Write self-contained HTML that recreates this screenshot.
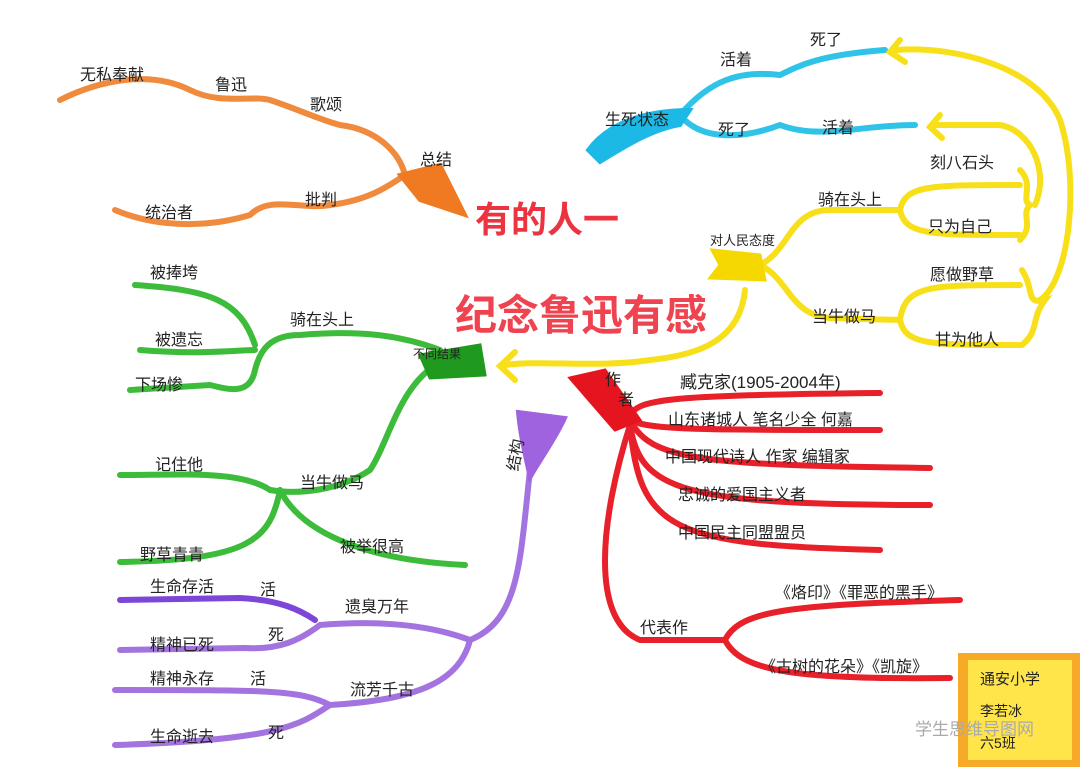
<!DOCTYPE html>
<html><head><meta charset="utf-8"><style>
html,body{margin:0;padding:0;background:#fff;}
svg{display:block;}
text{font-family:"Liberation Sans","Noto Sans CJK SC",sans-serif;fill:#222;}
</style></head><body>
<svg width="1080" height="767" viewBox="0 0 1080 767">
<g fill="none" stroke-linecap="round">
<g stroke="#f08a3c" stroke-width="6">
<path d="M60,100 C100,80 150,70 190,90 C220,105 250,95 270,100 C300,110 320,120 340,125 C380,130 400,155 405,175"/>
<path d="M115,210 C150,225 200,230 250,215 C270,195 300,210 330,205 C370,200 390,185 405,175"/>
</g>
<path d="M400,175 L440,165 L465,215 L420,200 Z" fill="#f07a22" stroke="#f07a22" stroke-width="4"/>
<g stroke="#2fc3e8" stroke-width="6">
<path d="M680,115 C710,80 740,70 780,75 C800,65 820,55 885,50"/>
<path d="M680,115 C700,140 740,140 780,125 C820,140 860,125 915,125"/>
</g>
<path d="M588,150 C610,120 650,110 690,110 L680,125 C650,130 620,150 600,162 Z" fill="#1db9e6" stroke="#1db9e6" stroke-width="4"/>
<g stroke="#f7e01a" stroke-width="6">
<path d="M760,265 C790,250 790,210 830,210 L900,210"/>
<path d="M900,210 C905,185 930,185 1020,185"/>
<path d="M900,210 C905,235 930,235 1020,235"/>
<path d="M760,265 C790,280 790,315 830,318 L900,320"/>
<path d="M900,320 C905,285 930,285 1020,285"/>
<path d="M900,320 C905,345 930,345 1020,345"/>
<path d="M1020,170 C1035,185 1020,200 1030,205 C1020,215 1035,225 1020,240"/>
<path d="M1022,270 C1035,290 1025,305 1045,300 C1030,320 1040,330 1022,345"/>
<path d="M1040,300 C1070,280 1080,180 1060,120 C1040,70 960,45 895,50"/>
<path d="M1035,205 C1050,170 1030,130 1000,125 L935,125"/>
<path d="M745,290 C740,340 700,355 650,360 C600,368 540,360 505,365"/>
<path d="M900,40 L890,52 L905,62"/>
<path d="M940,115 L930,127 L942,138"/>
<path d="M515,352 L500,366 L515,380"/>
</g>
<path d="M712,250 L760,255 L765,280 L710,278 L720,265 Z" fill="#f5d800" stroke="#f5d800" stroke-width="3"/>
<g stroke="#3dbb3a" stroke-width="6">
<path d="M440,350 C400,335 360,330 300,335 C270,335 260,350 255,370 C250,395 230,390 210,385 L130,390"/>
<path d="M255,345 C240,300 210,290 135,285"/>
<path d="M255,350 C240,350 200,355 140,350"/>
<path d="M445,360 C400,380 390,440 370,470 C340,490 300,495 270,490"/>
<path d="M270,490 C240,470 180,475 120,475"/>
<path d="M280,490 C270,540 250,560 120,562"/>
<path d="M280,490 C300,530 360,560 465,565"/>
</g>
<path d="M420,355 L480,345 L485,375 L430,378 Z" fill="#1f9a1f" stroke="#1f9a1f" stroke-width="3"/>
<g stroke="#a374e0" stroke-width="6">
<path d="M530,470 C520,560 520,620 470,640 C430,625 380,620 320,625 C300,640 280,650 245,648 L120,650"/>
<path d="M470,640 C460,680 420,700 330,705 C300,725 280,740 115,745"/>
<path d="M330,705 C300,690 270,690 115,690"/>
</g>
<path d="M120,600 L240,598 C280,600 300,610 315,620" stroke="#7d45d8" stroke-width="6"/>
<path d="M518,412 L565,418 C555,440 540,460 530,478 C525,455 520,435 518,412 Z" fill="#9f63e0" stroke="#9f63e0" stroke-width="4"/>
<g stroke="#e8202a" stroke-width="6">
<path d="M630,415 C640,400 660,395 880,393"/>
<path d="M630,420 C650,430 700,430 880,430"/>
<path d="M630,420 C650,460 700,465 930,468"/>
<path d="M630,425 C640,490 680,505 930,505"/>
<path d="M630,425 C640,530 670,545 880,550"/>
<path d="M630,425 C600,520 590,620 640,640 L725,640"/>
<path d="M725,640 C740,610 790,605 960,600"/>
<path d="M725,640 C740,670 790,680 950,678"/>
</g>
<path d="M570,378 L605,370 L640,420 L615,430 Z" fill="#e5151f" stroke="#e5151f" stroke-width="3"/>
</g>
<rect x="958" y="653" width="122" height="114" fill="#f7a928"/>
<rect x="968" y="660" width="104" height="100" fill="#ffe44a"/>
<text x="980" y="684" font-size="15">通安小学</text>
<text x="980" y="716" font-size="14">李若冰</text>
<text x="980" y="748" font-size="14">六5班</text>
<text x="915" y="735" font-size="17" style="fill:#aaa">学生思维导图网</text>
<text x="475" y="232" font-size="36" font-weight="bold" style="fill:#ec3440">有的人一</text>
<text x="455" y="330" font-size="42" font-weight="bold" style="fill:#ef4450">纪念鲁迅有感</text>
<g font-size="16">
<text x="80" y="80">无私奉献</text><text x="215" y="90">鲁迅</text><text x="310" y="110">歌颂</text>
<text x="420" y="165">总结</text><text x="305" y="205">批判</text><text x="145" y="218">统治者</text>
<text x="605" y="125">生死状态</text><text x="720" y="65">活着</text><text x="810" y="45">死了</text>
<text x="718" y="135">死了</text><text x="822" y="133">活着</text>
<text x="710" y="245" font-size="13">对人民态度</text><text x="818" y="205">骑在头上</text>
<text x="930" y="168">刻八石头</text><text x="928" y="232">只为自己</text>
<text x="930" y="280">愿做野草</text><text x="812" y="322">当牛做马</text><text x="935" y="345">甘为他人</text>
<text x="150" y="278">被捧垮</text><text x="155" y="345">被遗忘</text><text x="135" y="390">下场惨</text>
<text x="290" y="325">骑在头上</text><text x="413" y="358" font-size="12">不同结果</text>
<text x="155" y="470">记住他</text><text x="300" y="488">当牛做马</text><text x="340" y="552">被举很高</text>
<text x="140" y="560">野草青青</text>
<text x="150" y="592">生命存活</text><text x="260" y="595">活</text><text x="150" y="650">精神已死</text>
<text x="268" y="640">死</text><text x="345" y="612">遗臭万年</text>
<text x="150" y="684">精神永存</text><text x="250" y="684">活</text><text x="350" y="695">流芳千古</text>
<text x="150" y="742">生命逝去</text><text x="268" y="738">死</text>
<text x="500" y="470" transform="rotate(-80 510 460)">结构</text>
<text x="605" y="385">作</text><text x="618" y="405">者</text>
<text x="680" y="388" font-size="17">臧克家(1905-2004年)</text>
<text x="668" y="425">山东诸城人  笔名少全  何嘉</text>
<text x="665" y="462">中国现代诗人   作家   编辑家</text>
<text x="678" y="500">忠诚的爱国主义者</text>
<text x="678" y="538">中国民主同盟盟员</text>
<text x="640" y="633">代表作</text>
<text x="775" y="598">《烙印》《罪恶的黑手》</text>
<text x="760" y="672">《古树的花朵》《凯旋》</text>
</g>
</svg>
</body></html>
